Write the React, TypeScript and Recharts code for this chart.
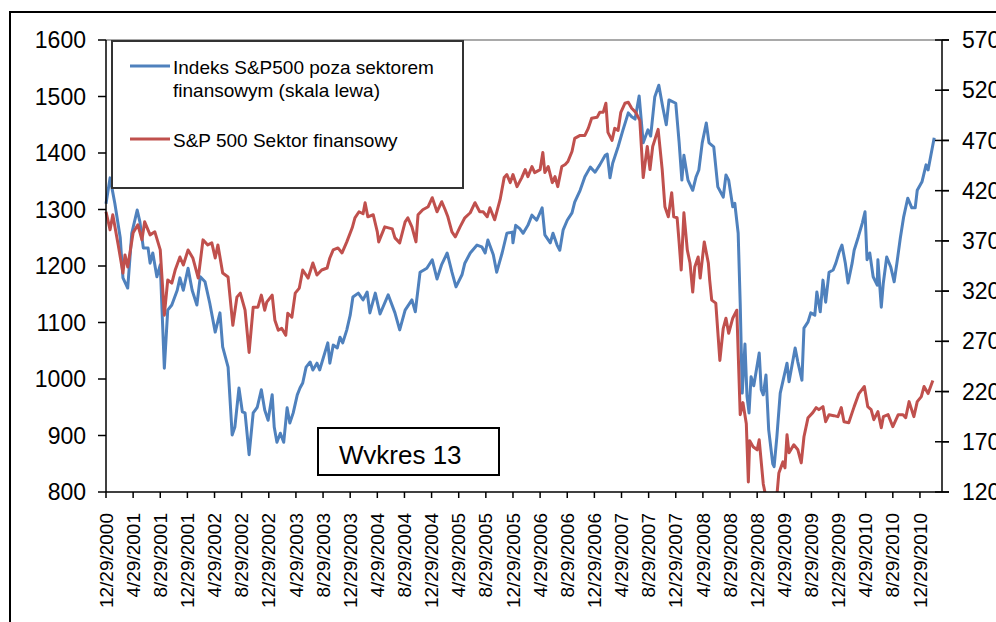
import { LineChart, Line, XAxis, YAxis, ReferenceLine } from "recharts";

// months counted from 12/29/2000
const xTickLabels = [
  "12/29/2000", "4/29/2001", "8/29/2001", "12/29/2001", "4/29/2002", "8/29/2002",
  "12/29/2002", "4/29/2003", "8/29/2003", "12/29/2003", "4/29/2004", "8/29/2004",
  "12/29/2004", "4/29/2005", "8/29/2005", "12/29/2005", "4/29/2006", "8/29/2006",
  "12/29/2006", "4/29/2007", "8/29/2007", "12/29/2007", "4/29/2008", "8/29/2008",
  "12/29/2008", "4/29/2009", "8/29/2009", "12/29/2009", "4/29/2010", "8/29/2010",
  "12/29/2010",
];
const xTickMonths = xTickLabels.map((_, i) => i * 4);

const leftTicks = [800, 900, 1000, 1100, 1200, 1300, 1400, 1500, 1600];
const rightTicks = [120, 170, 220, 270, 320, 370, 420, 470, 520, 570];

// Indeks S&P500 poza sektorem finansowym (skala lewa)
const blueMonths = [
  0, 0.6, 1.3, 2.1, 2.5, 3.2, 3.8, 4.6, 5.0, 5.5, 6.2, 6.5, 6.9, 7.5, 8.0, 8.6, 9.1, 9.7,
  10.5, 10.9, 11.4, 12.1, 12.7, 13.4, 13.9, 14.6, 15.3, 16.1, 16.8, 17.2, 18.0, 18.6, 19.0,
  19.6, 20.1, 20.5, 21.1, 21.7, 22.3, 22.9, 23.4, 23.9, 24.5, 24.8, 25.2, 25.7, 26.2, 26.7,
  27.1, 27.6, 28.2, 28.6, 29.0, 29.5, 30.1, 30.5, 31.1, 31.5, 32.3, 32.7, 33.0, 33.5, 34.1,
  34.5, 34.9, 35.5, 36.0, 36.4, 37.2, 37.9, 38.5, 38.9, 39.7, 40.4, 41.6, 42.6, 43.3, 44.1,
  45.1, 45.6, 46.3, 47.3, 48.1, 48.8, 49.5, 50.3, 51.0, 51.6, 52.5, 52.9, 53.7, 54.7, 55.4,
  55.9, 56.3, 57.1, 57.6, 58.4, 59.1, 59.9, 60.0, 60.4, 61.0, 61.5, 62.2, 62.8, 63.5, 64.3,
  64.7, 65.5, 65.9, 66.5, 66.9, 67.4, 68.0, 68.7, 69.1, 69.9, 70.6, 71.4, 72.1, 72.8, 73.6,
  73.9, 74.3, 74.7, 75.5, 76.2, 77.0, 77.5, 78.0, 78.6, 79.2, 79.9, 80.3, 80.9, 81.5, 82.1,
  82.6, 83.0, 84.0, 84.5, 84.9, 85.2, 85.8, 86.5, 87.0, 87.4, 87.9, 88.5, 88.9, 89.6, 90.2,
  91.0, 91.4, 91.8, 92.4, 92.7, 93.2, 93.5, 93.8, 94.2, 94.5, 94.8, 95.1, 95.5, 96.3, 96.6,
  96.9, 97.3, 97.7, 98.3, 98.5, 98.9, 99.4, 100.4, 100.7, 101.6, 102.0, 102.6, 102.9, 103.5,
  103.9, 104.5, 104.8, 105.3, 105.7, 106.1, 106.6, 107.2, 107.6, 108.1, 108.5, 109.0, 109.4,
  110.0, 110.3, 110.9, 111.5, 111.9, 112.2, 112.6, 113.1, 113.7, 113.8, 114.3, 114.6, 115.1,
  115.7, 116.2, 116.6, 117.1, 117.6, 118.2, 118.8, 119.3, 119.6, 120.3, 120.9, 121.2, 122.1,
];
const blueValues = [
  1310, 1356, 1311, 1250, 1179, 1161, 1258, 1299, 1278, 1232, 1232, 1205, 1223, 1181, 1202, 1019, 1122, 1131,
  1157, 1179, 1157, 1196, 1157, 1131, 1181, 1172, 1134, 1083, 1117, 1057, 1021, 901, 915,
  984, 942, 940, 866, 940, 950, 981, 945, 927, 972, 915, 888, 904, 888, 949,
  922, 940, 972, 984, 993, 1021, 1030, 1016, 1028, 1016, 1048, 1064, 1028, 1060, 1055,
  1074, 1064, 1087, 1113, 1145, 1152, 1140, 1154, 1117, 1152, 1115, 1149, 1117, 1087, 1122,
  1140, 1119, 1189, 1196, 1211, 1177, 1203, 1223, 1189, 1163, 1185, 1205, 1223, 1237, 1234,
  1223, 1246, 1220, 1189, 1223, 1258, 1260, 1241, 1272, 1266, 1258, 1272, 1290, 1281, 1303,
  1255, 1241, 1258, 1237, 1228, 1264, 1281, 1294, 1313, 1334, 1358, 1375, 1366, 1379, 1396,
  1398, 1356, 1382, 1411, 1440, 1471, 1464, 1460, 1501, 1418, 1441, 1430, 1499, 1520, 1480,
  1450, 1494, 1488, 1418, 1352, 1396, 1352, 1334, 1358, 1370, 1418, 1453, 1418, 1411, 1340,
  1322, 1361, 1352, 1305, 1311, 1258, 1134, 975, 1062, 970, 940, 1004, 988, 1046, 981,
  972, 1007, 910, 850, 845, 897, 975, 1028, 995, 1055, 1030, 998, 1090, 1101,
  1117, 1113, 1154, 1119, 1175, 1136, 1189, 1193, 1205, 1225, 1237, 1205, 1170,
  1205, 1228, 1251, 1276, 1296, 1211, 1223, 1181, 1166, 1211, 1127, 1170, 1216,
  1198, 1172, 1205, 1249, 1287, 1320, 1303, 1303, 1334, 1349, 1379, 1370, 1427,
];

// S&P 500 Sektor finansowy (skala prawa)
const redMonths = [
  0, 0.6, 1.0, 1.8, 2.5, 2.8, 3.2, 4.0, 4.7, 5.3, 5.7, 6.5, 7.2, 8.0, 8.6, 9.1, 9.7, 10.2,
  10.9, 11.4, 12.1, 12.8, 13.6, 14.3, 15.0, 15.6, 16.1, 16.5, 17.2, 18.0, 18.7, 19.3, 19.8,
  20.5, 21.1, 21.7, 22.4, 22.9, 23.4, 23.7, 24.5, 24.9, 25.4, 25.9, 26.5, 26.8, 27.4, 27.9,
  28.5, 29.0, 29.8, 30.5, 31.1, 31.8, 32.6, 33.0, 33.5, 34.2, 34.8, 35.5, 36.3, 36.7, 37.3,
  37.9, 38.2, 38.6, 39.4, 40.0, 40.2, 41.1, 42.2, 42.6, 43.3, 44.1, 44.5, 45.1, 45.7, 46.0,
  46.7, 47.5, 48.1, 48.8, 49.5, 50.0, 50.4, 51.0, 51.5, 52.2, 52.9, 53.7, 54.4, 55.1, 55.6,
  56.2, 56.6, 57.3, 58.1, 58.7, 59.1, 59.6, 60.0, 60.6, 61.3, 61.8, 62.2, 62.8, 63.2, 64.0,
  64.4, 64.7, 65.2, 65.8, 66.2, 66.6, 67.2, 67.7, 68.1, 68.7, 69.1, 69.9, 70.6, 71.1, 71.6,
  72.4, 72.8, 73.3, 73.7, 74.0, 74.6, 75.0, 75.5, 75.9, 76.5, 77.0, 77.5, 78.1, 78.7, 79.2,
  79.8, 80.2, 80.6, 81.4, 82.0, 82.4, 82.9, 83.4, 83.7, 84.2, 84.5, 84.8, 85.2, 85.7, 86.1,
  86.5, 86.8, 87.3, 87.6, 88.2, 88.8, 89.0, 89.3, 89.9, 90.5, 91.0, 91.4, 91.8, 92.4, 93.0,
  93.5, 93.9, 94.4, 94.7, 94.9, 95.4, 96.0, 96.3, 96.9, 97.2, 97.6, 98.2, 98.8, 99.2, 99.8,
  100.1, 100.4, 100.7, 101.4, 102.0, 102.5, 102.9, 103.5, 104.2, 104.7, 105.1, 105.7, 106.1,
  106.6, 107.3, 107.9, 108.4, 108.8, 109.5, 110.3, 111.0, 111.8, 112.3, 112.8, 113.2, 113.8,
  114.3, 114.6, 115.3, 116.0, 116.8, 117.5, 117.9, 118.4, 119.1, 119.6, 120.2, 120.6, 121.2,
  121.9,
];
const redValues = [
  399, 381, 396, 366, 338, 356, 344, 378, 386, 371, 389, 376, 379, 361, 296, 331, 328, 341,
  354, 346, 361, 353, 333, 371, 366, 368, 353, 366, 338, 334, 286, 314, 318,
  301, 259, 304, 304, 316, 301, 309, 316, 291, 281, 283, 276, 298, 294, 318,
  323, 341, 333, 348, 336, 341, 343, 353, 361, 363, 358, 369, 383, 393, 399,
  397, 408, 394, 396, 379, 369, 384, 382, 373, 368, 389, 393, 384, 369, 396,
  401, 404, 413, 399, 409, 401, 394, 379, 374, 384, 393, 398, 408, 399, 399,
  394, 403, 391, 411, 433, 436, 428, 436, 424, 433, 441, 434, 444, 438, 441,
  458, 438, 444, 428, 434, 424, 444, 446, 449, 459, 472, 475, 475, 482, 492,
  493, 498, 498, 507, 478, 470, 482, 480, 498, 507, 508, 502, 498, 490, 433,
  464, 441, 464, 481, 441, 404, 394, 418, 394, 393, 368, 341, 398, 361, 348,
  319, 344, 354, 333, 369, 348, 331, 311, 308, 251, 283, 293, 278, 293, 301,
  197, 209, 188, 130, 171, 165, 162, 172, 128, 118, 105, 100, 108, 139, 150,
  144, 177, 159, 167, 162, 149, 175, 194, 199, 204, 202, 205, 190,
  197, 196, 195, 204, 190, 189, 205, 218, 225, 205, 202, 192, 200,
  184, 195, 197, 185, 197, 197, 194, 210, 195, 210, 215, 225, 218,
  231,
];

const blueData = blueMonths.map((t, i) => ({ t, v: blueValues[i] }));
const redData = redMonths.map((t, i) => ({ t, v: redValues[i] }));

const FONT = "'Liberation Sans', Arial, sans-serif";
const BLUE = "#4F81BD";
const RED = "#C0504D";

const XTick = (props: any) => {
  const { x, y, payload } = props;
  const label = xTickLabels[Math.round(payload.value / 4)] ?? "";
  return (
    <text
      x={x}
      y={y}
      transform={`rotate(-90 ${x} ${y})`}
      textAnchor="end"
      dy="0.35em"
      fontSize={19}
      fill="#000"
      fontFamily={FONT}
    >
      {label}
    </text>
  );
};

const RightTick = (props: any) => {
  const { x, y, payload } = props;
  return (
    <g>
      <line x1={x - 27} x2={x - 13} y1={y} y2={y} stroke="#000" strokeWidth={1.5} />
      <text x={x} y={y} dy="0.355em" textAnchor="start" fontSize={23} fill="#000" fontFamily={FONT}>
        {payload.value}
      </text>
    </g>
  );
};

export default function App() {
  return (
    <div
      style={{
        position: "absolute",
        left: 0,
        top: 0,
        width: 996,
        height: 622,
        overflow: "hidden",
        background: "#fff",
        fontFamily: FONT,
      }}
    >
      <LineChart width={996} height={622} margin={{ top: 40, right: 0, left: 0, bottom: 0 }}>
        <XAxis
          xAxisId="x"
          type="number"
          dataKey="t"
          domain={[0, 123.25]}
          ticks={xTickMonths}
          interval={0}
          height={130}
          tickSize={6}
          tickMargin={15}
          tick={<XTick />}
          axisLine={{ stroke: "#000", strokeWidth: 1.5 }}
          tickLine={{ stroke: "#000", strokeWidth: 1.5 }}
        />
        <YAxis
          yAxisId="left"
          orientation="left"
          width={106}
          domain={[800, 1600]}
          ticks={leftTicks}
          interval={0}
          tickSize={8}
          tickMargin={12}
          tick={{ fontSize: 23, fill: "#000", fontFamily: FONT }}
          axisLine={{ stroke: "#000", strokeWidth: 1.5 }}
          tickLine={{ stroke: "#000", strokeWidth: 1.5 }}
        />
        <YAxis
          yAxisId="right"
          orientation="right"
          width={54}
          domain={[120, 570]}
          allowDataOverflow
          ticks={rightTicks}
          interval={0}
          tickSize={7}
          tickMargin={13}
          tick={<RightTick />}
          axisLine={{ stroke: "#000", strokeWidth: 1.5 }}
          tickLine={{ stroke: "#000", strokeWidth: 1.5 }}
        />
        <ReferenceLine xAxisId="x" yAxisId="left" y={1600} stroke="#8c8c8c" strokeWidth={1.5} />
        <Line
          xAxisId="x"
          yAxisId="left"
          data={blueData}
          dataKey="v"
          type="linear"
          stroke={BLUE}
          strokeWidth={3}
          strokeLinejoin="round"
          dot={false}
          isAnimationActive={false}
        />
        <Line
          xAxisId="x"
          yAxisId="right"
          data={redData}
          dataKey="v"
          type="linear"
          stroke={RED}
          strokeWidth={3}
          strokeLinejoin="round"
          dot={false}
          isAnimationActive={false}
        />
      </LineChart>

      <svg
        width={996}
        height={622}
        style={{ position: "absolute", left: 0, top: 0, pointerEvents: "none" }}
        fontFamily={FONT}
      >
        <defs>
          <clipPath id="wykresClip">
            <rect x={320} y={430} width={177} height={34} />
          </clipPath>
        </defs>
        {/* chart frame */}
        <path d="M10,640 L10,12 L1000,12" fill="none" stroke="#000" strokeWidth={2} />

        {/* legend */}
        <rect x={112} y={41} width={351} height={147} fill="#fff" stroke="#333" strokeWidth={2} />
        <line x1={130} x2={170} y1={66} y2={66} stroke={BLUE} strokeWidth={3} />
        <text x={173} y={74} fontSize={19} fill="#000">
          Indeks S&amp;P500 poza sektorem
        </text>
        <text x={173} y={97} fontSize={19} fill="#000">
          finansowym (skala lewa)
        </text>
        <line x1={130} x2={170} y1={139} y2={139} stroke={RED} strokeWidth={3} />
        <text x={173} y={147} fontSize={19} fill="#000">
          S&amp;P 500 Sektor finansowy
        </text>

        {/* caption box */}
        <rect x={318} y={428} width={181} height={47} fill="#fff" stroke="#000" strokeWidth={2} />
        <text x={339} y={464} fontSize={26} fill="#000" clipPath="url(#wykresClip)">
          Wykres 13
        </text>
      </svg>
    </div>
  );
}
